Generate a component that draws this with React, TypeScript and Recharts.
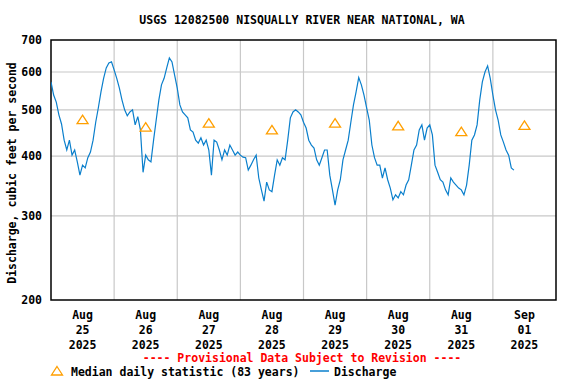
import {
  ComposedChart,
  Line,
  Scatter,
  XAxis,
  YAxis,
  CartesianGrid,
  ReferenceArea,
} from "recharts";

// hours since Aug 25 00:00, one reading per hour (cfs)
const discharge = [
  572, 537, 519, 488, 467, 432, 412, 432, 402, 412, 389, 365, 383, 378, 397, 408, 432, 471, 505, 545, 582, 612, 627, 630,
  606, 582, 555, 524, 500, 486, 495, 500, 465, 484, 454, 370,
  402, 393, 389, 432, 476, 524, 564, 582, 612, 642, 630, 591, 555, 512, 495, 488, 481, 454, 449, 432, 426, 437, 422, 432,
  412, 365, 432, 428, 412, 393, 412, 402, 422, 412, 402, 408, 402,
  398, 397, 374, 383, 393, 402, 360, 340, 322, 353, 340, 337, 365, 393, 383, 397, 393, 432, 481, 495, 500, 495, 488, 471,
  458, 432, 422, 416, 393, 383, 397, 412, 412, 365, 340, 316, 340,
  357, 393, 412, 432, 471, 512, 545, 584, 564, 537, 505, 476, 422, 397, 383, 383, 360, 378, 357, 343, 324, 332, 327, 337,
  332, 348, 357, 383, 412, 422, 454, 465, 432, 458, 465, 443, 383,
  370, 357, 353, 340, 332, 360, 353, 348, 343, 340, 332, 348, 383, 432, 443, 465, 524, 572, 600, 618, 582, 537, 500, 476,
  443, 428, 412, 402, 378, 374,
];

const medianHours = [12, 36, 60, 84, 108, 132, 156, 180];
const medianValues = [477, 460, 469, 454, 469, 463, 450, 464];

const dayMonths = ["Aug", "Aug", "Aug", "Aug", "Aug", "Aug", "Aug", "Sep"];
const dayNumbers = ["25", "26", "27", "28", "29", "30", "31", "01"];
const dayYears = ["2025", "2025", "2025", "2025", "2025", "2025", "2025", "2025"];

const midnightHours = [24, 48, 72, 96, 120, 144, 168];
const yTicks = [200, 300, 400, 500, 600, 700];
const yGrid = [300, 400, 500, 600];

const flowData = discharge.map((v, i) => ({ h: i, v }));
const medianData = medianHours.map((h, i) => ({ h, v: medianValues[i] }));

const FONT = "'DejaVu Sans Mono', 'Liberation Mono', monospace";
const BLUE = "#0a7fcc";
const ORANGE = "#ff9f00";

function DayTick(props: any) {
  const { x, y, index } = props;
  return (
    <text
      x={x}
      y={y}
      textAnchor="middle"
      fontFamily={FONT}
      fontWeight="bold"
      fontSize={11.5}
      fill="#000"
    >
      <tspan x={x} dy={19}>{dayMonths[index]}</tspan>
      <tspan x={x} dy={15}>{dayNumbers[index]}</tspan>
      <tspan x={x} dy={15}>{dayYears[index]}</tspan>
    </text>
  );
}

function Triangle(props: any) {
  const { cx, cy } = props;
  return (
    <polygon
      points={`${cx},${cy - 4.5} ${cx + 5.5},${cy + 4} ${cx - 5.5},${cy + 4}`}
      fill="none"
      stroke={ORANGE}
      strokeWidth={1.3}
    />
  );
}

const textStyle = {
  position: "absolute" as const,
  fontFamily: FONT,
  fontWeight: "bold" as const,
  fontSize: 11.5,
  whiteSpace: "nowrap" as const,
  lineHeight: "14px",
};

export default function App() {
  return (
    <div style={{ position: "absolute", left: 0, top: 0, width: 576, height: 384, background: "#fff" }}>
      <div style={{ ...textStyle, left: 0, width: 604, top: 13, textAlign: "center" }}>
        USGS 12082500 NISQUALLY RIVER NEAR NATIONAL, WA
      </div>

      <div
        style={{
          ...textStyle,
          left: 12,
          top: 173,
          transform: "translate(-50%, -50%) rotate(-90deg)",
        }}
      >
        Discharge, cubic feet per second
      </div>

      <ComposedChart
        width={576}
        height={384}
        margin={{ top: 40, right: 20, bottom: 34, left: 11 }}
      >
        <CartesianGrid
          stroke="#c8c8c8"
          strokeWidth={1.2}
          verticalValues={midnightHours}
          horizontalValues={yGrid}
        />
        <XAxis
          type="number"
          dataKey="h"
          domain={[0, 192]}
          ticks={medianHours}
          allowDataOverflow
          height={50}
          axisLine={false}
          tickLine={false}
          tickSize={0}
          tickMargin={0}
          interval={0}
          tick={<DayTick />}
        />
        <YAxis
          scale="log"
          domain={[200, 700]}
          ticks={yTicks}
          allowDataOverflow
          width={40}
          axisLine={false}
          tickLine={false}
          tickSize={0}
          tickMargin={9}
          interval={0}
          tick={{ fontFamily: FONT, fontWeight: "bold", fontSize: 11.5, fill: "#000" }}
        />
        <ReferenceArea
          x1={0}
          x2={192}
          y1={200}
          y2={700}
          fill="none"
          stroke="#000"
          strokeWidth={1.5}
        />
        <Line
          data={flowData}
          dataKey="v"
          type="linear"
          stroke={BLUE}
          strokeWidth={1.2}
          dot={false}
          isAnimationActive={false}
        />
        <Scatter
          data={medianData}
          dataKey="v"
          shape={<Triangle />}
          isAnimationActive={false}
        />
      </ComposedChart>

      <div style={{ ...textStyle, left: 0, width: 604, top: 351, textAlign: "center", color: "#ff0000" }}>
        ---- Provisional Data Subject to Revision ----
      </div>

      <svg style={{ position: "absolute", left: 50, top: 365 }} width={14} height={12}>
        <polygon points="7,1.5 12.5,10 1.5,10" fill="none" stroke={ORANGE} strokeWidth={1.3} />
      </svg>
      <div style={{ ...textStyle, left: 71, top: 365 }}>Median daily statistic (83 years)</div>
      <svg style={{ position: "absolute", left: 309, top: 365 }} width={22} height={12}>
        <line x1={1} y1={6} x2={20} y2={6} stroke={BLUE} strokeWidth={1.5} />
      </svg>
      <div style={{ ...textStyle, left: 334, top: 365 }}>Discharge</div>
    </div>
  );
}
